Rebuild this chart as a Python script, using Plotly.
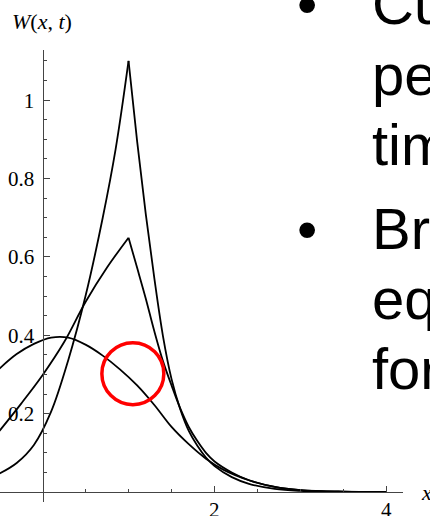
import plotly.graph_objects as go

# ---- curve data: W(x, t) at three times ----
# narrow profile with a sharp cusp at x = 1
x_sharp_rise = [-0.5, -0.3, -0.1, 0.1, 0.3, 0.5, 0.7, 0.85, 1.0]
w_sharp_rise = [0.047, 0.074, 0.12, 0.205, 0.337, 0.50, 0.70, 0.875, 1.10]
x_sharp_fall = [1.0, 1.1, 1.2, 1.3, 1.4, 1.5, 1.6, 1.7, 1.8, 1.9,
                2.0, 2.2, 2.4, 2.7, 3.0, 3.5, 4.0]
w_sharp_fall = [1.10, 0.895, 0.71, 0.545, 0.398, 0.288, 0.212, 0.156, 0.118, 0.088,
                0.066, 0.038, 0.021, 0.008, 0.003, 0.0005, 0.0]

# intermediate profile, smaller cusp at x = 1
x_mid_rise = [-0.5, -0.25, 0.0, 0.25, 0.5, 0.75, 1.0]
w_mid_rise = [0.156, 0.225, 0.298, 0.382, 0.485, 0.573, 0.649]
x_mid_fall = [1.0, 1.1, 1.2, 1.3, 1.4, 1.5, 1.6, 1.7, 1.8, 1.9,
              2.0, 2.2, 2.4, 2.7, 3.0, 3.5, 4.0]
w_mid_fall = [0.649, 0.572, 0.494, 0.41, 0.334, 0.272, 0.214, 0.166, 0.13, 0.10,
              0.078, 0.05, 0.03, 0.013, 0.005, 0.001, 0.0]

# smooth, spread-out profile
x_smooth = [-0.5, -0.3, -0.1, 0.1, 0.3, 0.5, 0.7, 0.9, 1.1, 1.3, 1.5, 1.7, 1.9,
            2.1, 2.4, 2.7, 3.0, 3.5, 4.0]
w_smooth = [0.315, 0.352, 0.378, 0.394, 0.394, 0.376, 0.348, 0.313, 0.272, 0.222,
            0.166, 0.122, 0.085, 0.057, 0.030, 0.013, 0.005, 0.0008, 0.0001]

# axis ticks
y_major = [0.2, 0.4, 0.6, 0.8, 1.0]
y_major_labels = ["0.2", "0.4", "0.6", "0.8", "1"]
y_minor = [0.05, 0.1, 0.15, 0.25, 0.3, 0.35, 0.45, 0.5, 0.55, 0.65, 0.7, 0.75,
           0.85, 0.9, 0.95, 1.05, 1.1]
x_major = [2, 4]
x_major_labels = ["2", "4"]
x_minor = [0.5, 1.0, 1.5, 2.5, 3.0, 3.5]

# highlighted region (data coordinates)
ring_center = (1.05, 0.302)
ring_radius = (0.36, 0.079)

# slide text beside the chart
bullet_lines = [["Cu", "pe", "tim"], ["Br", "eq", "for"]]

# ---- page geometry (pixels) ----
FIG_W, FIG_H = 430, 516
L, T, PW, PH = 0, 50, 403, 452
B = FIG_H - T - PH
R = FIG_W - L - PW
X_RANGE = [-0.494, 4.19]
Y_RANGE = [-0.0255, 1.128]


def px(xp):
    return (xp - L) / PW


def py(yp):
    return (FIG_H - B - yp) / PH


fig = go.Figure()
line_style = dict(color="black", width=1.8, shape="spline", smoothing=1.0)
for xs, ws in [(x_sharp_rise, w_sharp_rise), (x_sharp_fall, w_sharp_fall),
               (x_mid_rise, w_mid_rise), (x_mid_fall, w_mid_fall),
               (x_smooth, w_smooth)]:
    fig.add_trace(go.Scatter(x=xs, y=ws, mode="lines", line=line_style,
                             hoverinfo="skip", showlegend=False))

y0_frac = (0 - Y_RANGE[0]) / (Y_RANGE[1] - Y_RANGE[0])
x0_frac = (0 - X_RANGE[0]) / (X_RANGE[1] - X_RANGE[0])

axis_font = dict(family="Liberation Serif", size=21, color="black")
fig.update_layout(
    width=FIG_W, height=FIG_H,
    margin=dict(l=L, r=R, t=T, b=B, autoexpand=False),
    paper_bgcolor="white", plot_bgcolor="white",
    xaxis=dict(range=X_RANGE, anchor="free", position=y0_frac,
               showgrid=False, zeroline=False, showline=True,
               linecolor="#444", linewidth=1,
               tickmode="array", tickvals=x_major, showticklabels=False,
               ticks="inside", ticklen=6, tickcolor="#444",
               minor=dict(tickmode="array", tickvals=x_minor, ticks="inside",
                          ticklen=3, tickcolor="#444"),
               automargin=False),
    yaxis=dict(range=Y_RANGE, anchor="free", position=x0_frac,
               showgrid=False, zeroline=False, showline=True,
               linecolor="#444", linewidth=1,
               tickmode="array", tickvals=y_major, ticktext=y_major_labels,
               ticks="inside", ticklen=6, tickcolor="#444", tickfont=axis_font,
               ticklabelstandoff=4,
               minor=dict(tickmode="array", tickvals=y_minor, ticks="inside",
                          ticklen=3, tickcolor="#444"),
               automargin=False),
)

# x tick labels sit just under the axis line
for xv, lab in zip(x_major, x_major_labels):
    fig.add_annotation(text=lab, xref="x", yref="paper", x=xv, y=py(496),
                       xanchor="center", yanchor="top", showarrow=False,
                       font=axis_font)

cx, cy = ring_center
rx, ry = ring_radius
fig.add_shape(type="circle", xref="x", yref="y",
              x0=cx - rx, x1=cx + rx, y0=cy - ry, y1=cy + ry,
              line=dict(color="#FF0000", width=3.5), layer="above")

# axis titles
fig.add_annotation(text="<i>W</i>(<i>x</i>, <i>t</i>)", xref="paper", yref="paper",
                   x=px(42), y=py(21), xanchor="center", yanchor="middle",
                   showarrow=False,
                   font=dict(family="Liberation Serif", size=22, color="black"))
fig.add_annotation(text="<i>x</i>", xref="paper", yref="paper",
                   x=px(419), y=py(492), xanchor="left", yanchor="middle",
                   showarrow=False,
                   font=dict(family="Liberation Serif", size=22, color="black"))

# bulleted slide text
slide_font = dict(family="Liberation Sans", size=58, color="black")
baselines = [[25, 96, 166], [250, 320, 390]]
descent = 0.212 * 58 + 1
for words, bases in zip(bullet_lines, baselines):
    fig.add_annotation(text="•", xref="paper", yref="paper",
                       x=px(306.7), y=py(bases[0] + descent),
                       xanchor="center", yanchor="bottom", showarrow=False,
                       font=slide_font)
    for word, base in zip(words, bases):
        fig.add_annotation(text=word, xref="paper", yref="paper",
                           x=px(370), y=py(base + descent),
                           xanchor="left", yanchor="bottom", showarrow=False,
                           font=slide_font)

fig.write_html("out.html")
